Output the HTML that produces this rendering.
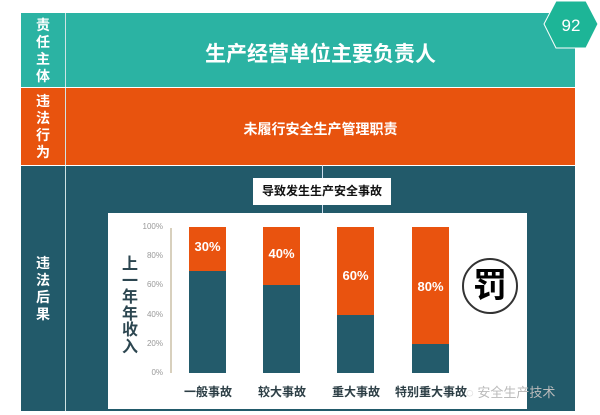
<!DOCTYPE html>
<html><head><meta charset="utf-8"><style>
*{margin:0;padding:0;box-sizing:border-box}
body{width:600px;height:415px;background:#fff;position:relative;overflow:hidden;font-family:"Liberation Sans","Noto Sans CJK SC",sans-serif}
.a{position:absolute}
.vt{color:#fff;font-weight:bold;font-size:14px;line-height:17px;text-align:center;width:44px}
.tick{position:absolute;left:130px;width:33px;text-align:right;font-size:8px;color:#999}
.bar{position:absolute;width:37px;top:227px;height:146px;background:#e9530f}
.bar div{position:absolute;left:0;right:0;bottom:0;background:#235b6b}
.pl{position:absolute;width:37px;text-align:center;color:#fff;font-weight:bold;font-size:13px}
.xl{position:absolute;top:383px;font-size:12px;font-weight:bold;color:#2c3e45;text-align:center;width:90px}
</style></head><body>
<div class="a" style="left:21px;top:13px;width:554px;height:74px;background:#2bb3a3"></div>
<div class="a" style="left:21px;top:88px;width:554px;height:77px;background:#e8530e"></div>
<div class="a" style="left:21px;top:166px;width:554px;height:245px;background:#225a6a"></div>
<div class="a" style="left:65px;top:13px;width:1px;height:398px;background:#cfe3e3"></div>
<div class="a" style="left:21px;top:87px;width:45px;height:1px;background:#fff"></div>
<div class="a" style="left:21px;top:165px;width:45px;height:1px;background:#fff"></div>
<div class="a vt" style="left:21px;top:17px">责<br>任<br>主<br>体</div>
<div class="a vt" style="left:21px;top:93px">违<br>法<br>行<br>为</div>
<div class="a vt" style="left:21px;top:255px">违<br>法<br>后<br>果</div>
<div class="a" style="left:66px;top:38px;width:509px;text-align:center;color:#fff;font-weight:bold;font-size:21px">生产经营单位主要负责人</div>
<div class="a" style="left:66px;top:119px;width:509px;text-align:center;color:#fff;font-weight:bold;font-size:14px">未履行安全生产管理职责</div>
<div class="a" style="left:322px;top:165px;width:1px;height:48px;background:#cde"></div>
<div class="a" style="left:253px;top:178px;width:138px;height:27px;background:#fff;text-align:center;font-weight:bold;font-size:12px;line-height:27px;color:#111">导致发生生产安全事故</div>
<svg class="a" style="left:543px;top:0" width="57" height="50"><polygon points="13,1 43,1 55,24 43,48 13,48 1,24" fill="#1db597" stroke="#fff" stroke-width="1"/><text x="28" y="31" text-anchor="middle" fill="#fff" font-size="17" font-family="Liberation Sans">92</text></svg>
<div class="a" style="left:108px;top:213px;width:419px;height:196px;background:#fff"></div>
<div class="a" style="left:170px;top:228px;width:2px;height:145px;background:#d8d0bd"></div>
<div class="tick" style="top:222px">100%</div>
<div class="tick" style="top:251px">80%</div>
<div class="tick" style="top:280px">60%</div>
<div class="tick" style="top:310px">40%</div>
<div class="tick" style="top:339px">20%</div>
<div class="tick" style="top:368px">0%</div>
<div class="a" style="left:120px;top:257px;width:20px;text-align:center;font-size:16px;font-weight:bold;color:#2c4650;line-height:16.5px">上<br>一<br>年<br>年<br>收<br>入</div>
<div class="bar" style="left:189px"><div style="height:70%"></div></div>
<div class="bar" style="left:263px"><div style="height:60%"></div></div>
<div class="bar" style="left:337px"><div style="height:40%"></div></div>
<div class="bar" style="left:412px"><div style="height:20%"></div></div>
<div class="pl" style="left:189px;top:239px">30%</div>
<div class="pl" style="left:263px;top:246px">40%</div>
<div class="pl" style="left:337px;top:268px">60%</div>
<div class="pl" style="left:412px;top:279px">80%</div>
<div class="xl" style="left:163px">一般事故</div>
<div class="xl" style="left:237px">较大事故</div>
<div class="xl" style="left:311px">重大事故</div>
<div class="xl" style="left:386px">特别重大事故</div>
<div class="a" style="left:462px;top:258px;width:56px;height:56px;border:2px solid #333;border-radius:50%;text-align:center;font-size:34px;line-height:52px;font-weight:bold;color:#000">罚</div>
<div class="a" style="left:466px;top:382px;font-size:13px;color:#bbb">◌ 安全生产技术</div>
</body></html>
